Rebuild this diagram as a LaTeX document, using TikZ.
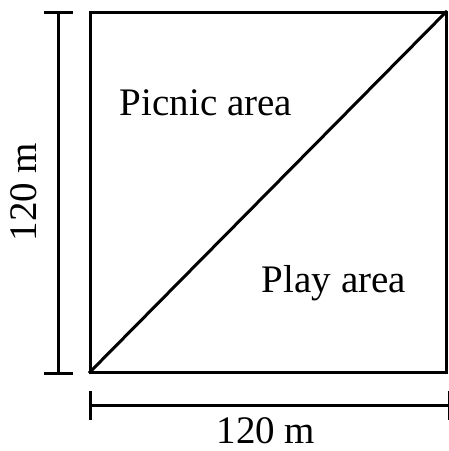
\documentclass[tikz,border=0pt]{standalone}
\usepackage{fontspec}
\setmainfont{Liberation Serif}
\begin{document}
\begin{tikzpicture}[x=1pt,y=-1pt,
  edge/.style={line width=3pt,line cap=rect},
  dim/.style={line width=3pt},
  lbl/.style={font=\fontsize{39}{42}\selectfont,inner sep=0pt,anchor=base}]
\useasboundingbox (0,0) rectangle (449,451);
\coordinate (A) at (90,372);
\coordinate (B) at (446,372);
\coordinate (C) at (446,12);
\coordinate (D) at (90,12);
\draw[edge] (A) -- (B) -- (C) -- (D) -- cycle;
\draw[edge] (A) -- (C);
% left dimension
\coordinate (L1) at (58,12);
\coordinate (L2) at (58,373);
\draw[dim] (L1) -- (L2);
\draw[dim] (44,12) -- (73,12);
\draw[dim] (44,373) -- (73,373);
% bottom dimension
\coordinate (B1) at (90,405);
\coordinate (B2) at (448,405);
\draw[dim] (B1) -- (B2);
\draw[dim] (90,391) -- (90,420);
\draw[line width=1pt] (448,391) -- (448,420);
\node[lbl] (pic) at (206,115) {Picnic area};
\node[lbl] (play) at (334,292) {Play area};
\node[lbl] (bot) at (266,443) {120 m};
\node[lbl,rotate=90] (left) at (37,192) {120 m};
\end{tikzpicture}
\end{document}
